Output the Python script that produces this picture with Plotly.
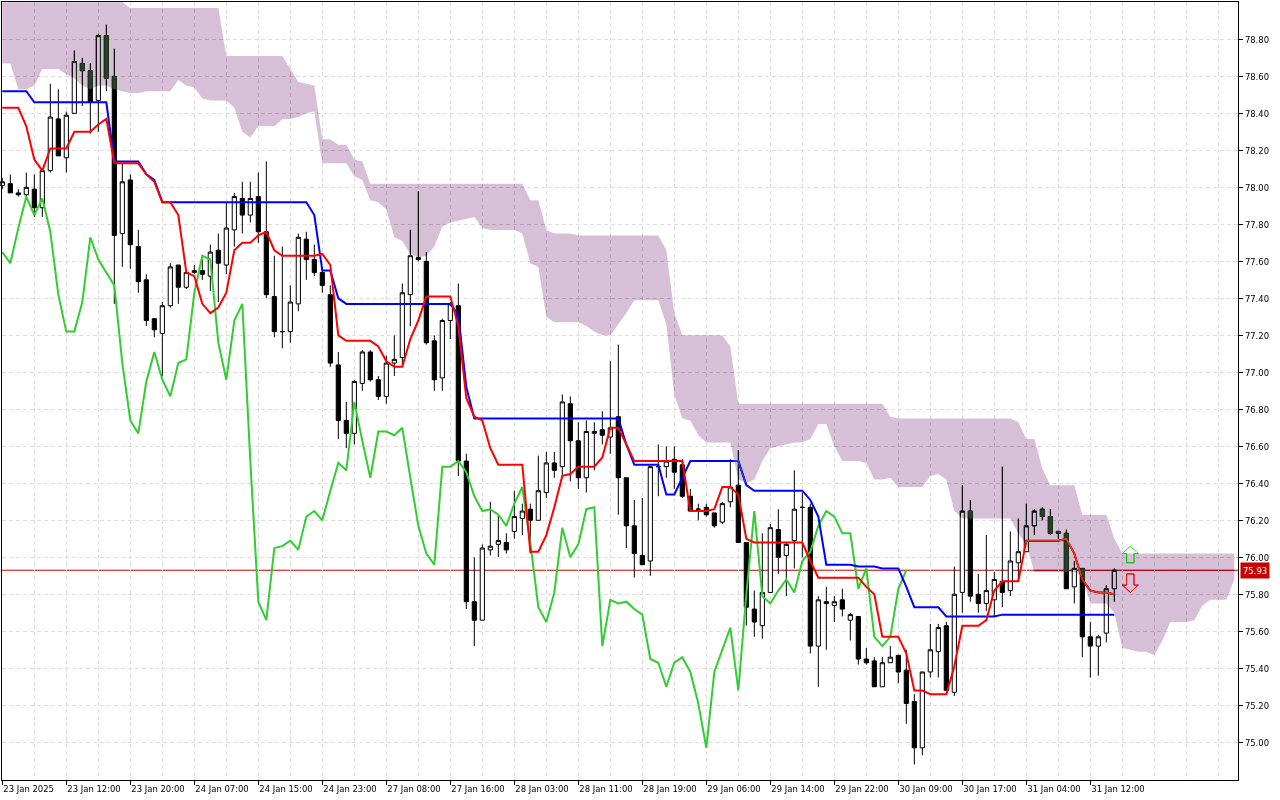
# filename: plot.py
import plotly.graph_objects as go

opens = [78.01, 78.02, 77.97, 77.96, 77.99, 77.89, 78.09, 78.37, 78.16, 78.40, 78.67, 78.63, 78.47, 78.82, 78.60, 77.75, 78.04, 77.68, 77.50, 77.29,
         77.21, 77.36, 77.58, 77.46, 77.54, 77.55, 77.52, 77.66, 77.58, 77.77, 77.94, 77.85, 77.95, 77.76, 77.41, 77.22, 77.22, 77.37, 77.72, 77.61,
         77.54, 77.42, 77.04, 76.74, 76.67, 76.94, 77.11, 76.96, 76.87, 77.05, 77.08, 77.42, 77.62, 77.60, 77.17, 76.97, 77.28, 77.36, 76.52, 75.76,
         75.66, 76.04, 76.07, 76.08, 76.14, 76.21, 76.26, 76.20, 76.35, 76.51, 76.49, 76.83, 76.63, 76.43, 76.67, 76.69, 76.65, 76.76, 76.43, 76.17,
         76.01, 75.98, 76.49, 76.49, 76.53, 76.50, 76.33, 76.26, 76.27, 76.24, 76.19, 76.30, 76.39, 76.08, 75.72, 75.63, 75.81, 76.15, 76.01, 76.09,
         76.27, 76.27, 75.52, 75.76, 75.74, 75.77, 75.66, 75.68, 75.45, 75.44, 75.30, 75.43, 75.47, 75.39, 75.22, 74.97, 75.38, 75.49, 75.63, 75.27,
         75.81, 76.25, 75.80, 75.75, 75.77, 75.87, 75.82, 75.97, 76.03, 76.17, 76.26, 76.22, 76.14, 76.13, 75.84, 75.94, 75.57, 75.52, 75.59, 75.83]
highs = [78.05, 78.07, 77.99, 78.08, 78.07, 78.10, 78.56, 78.53, 78.41, 78.74, 78.70, 78.67, 78.83, 78.88, 78.75, 78.13, 78.07, 77.77, 77.53, 77.29,
         77.38, 77.59, 77.58, 77.55, 77.58, 77.61, 77.69, 77.75, 77.92, 77.97, 78.03, 78.03, 78.08, 78.14, 77.63, 77.68, 77.47, 77.75, 77.76, 77.69,
         77.57, 77.47, 77.11, 76.84, 76.96, 77.12, 77.12, 76.98, 77.09, 77.20, 77.48, 77.77, 77.98, 77.65, 77.20, 77.29, 77.38, 77.48, 76.56, 76.00,
         76.07, 76.30, 76.23, 76.13, 76.36, 76.29, 76.29, 76.55, 76.57, 76.57, 76.88, 76.87, 76.73, 76.74, 76.73, 76.79, 77.06, 77.15, 76.43, 76.31,
         76.32, 76.49, 76.61, 76.60, 76.60, 76.53, 76.37, 76.29, 76.29, 76.24, 76.30, 76.53, 76.58, 76.08, 75.82, 76.13, 76.18, 76.26, 76.08, 76.47,
         76.35, 76.29, 75.79, 75.84, 75.79, 75.83, 75.70, 75.68, 75.51, 75.46, 75.46, 75.52, 75.47, 75.50, 75.26, 75.38, 75.64, 75.64, 75.65, 75.95,
         76.39, 76.31, 75.91, 76.12, 75.92, 76.49, 76.14, 76.21, 76.29, 76.26, 76.27, 76.26, 76.14, 76.15, 75.98, 75.94, 75.65, 75.58, 75.85, 75.94]
lows = [77.99, 77.97, 77.95, 77.95, 77.84, 77.84, 78.08, 78.17, 78.08, 78.40, 78.44, 78.29, 78.30, 78.52, 77.37, 77.57, 77.56, 77.43, 77.25, 77.19,
        76.98, 77.35, 77.37, 77.45, 77.53, 77.50, 77.44, 77.38, 77.53, 77.68, 77.75, 77.81, 77.70, 77.40, 77.19, 77.13, 77.16, 77.33, 77.50, 77.52,
        77.43, 77.03, 76.64, 76.59, 76.61, 76.90, 76.95, 76.85, 76.83, 76.98, 77.03, 77.25, 77.60, 77.15, 76.90, 76.90, 77.18, 76.44, 75.72, 75.52,
        75.66, 76.01, 76.00, 76.02, 76.10, 76.12, 76.02, 76.20, 76.32, 76.43, 76.44, 76.41, 76.37, 76.35, 76.47, 76.61, 76.56, 76.23, 76.05, 75.89,
        75.96, 75.90, 76.33, 76.43, 76.37, 76.32, 76.25, 76.20, 76.22, 76.16, 76.18, 76.27, 76.08, 75.63, 75.57, 75.56, 75.81, 75.91, 75.79, 75.94,
        76.00, 75.48, 75.30, 75.50, 75.65, 75.68, 75.55, 75.42, 75.42, 75.30, 75.30, 75.43, 75.32, 75.10, 74.88, 74.93, 75.35, 75.35, 75.28, 75.25,
        75.70, 75.76, 75.70, 75.71, 75.68, 75.73, 75.79, 75.87, 76.03, 76.12, 76.20, 76.12, 76.10, 75.83, 75.75, 75.46, 75.35, 75.36, 75.54, 75.76]
closes = [78.03, 77.97, 77.96, 78.00, 77.89, 78.09, 78.38, 78.17, 78.39, 78.68, 78.63, 78.46, 78.82, 78.59, 77.74, 78.03, 77.69, 77.49, 77.28, 77.23,
          77.36, 77.57, 77.46, 77.54, 77.55, 77.53, 77.65, 77.59, 77.78, 77.95, 77.85, 77.94, 77.76, 77.42, 77.22, 77.22, 77.38, 77.73, 77.61, 77.54,
          77.47, 77.05, 76.74, 76.67, 76.95, 77.11, 76.96, 76.87, 77.05, 77.07, 77.43, 77.63, 77.61, 77.16, 76.96, 77.28, 77.37, 76.52, 75.76, 75.66,
          76.05, 76.06, 76.09, 76.04, 76.22, 76.25, 76.20, 76.36, 76.51, 76.47, 76.84, 76.63, 76.43, 76.68, 76.68, 76.66, 76.70, 76.43, 76.17, 76.02,
          75.96, 76.49, 76.49, 76.52, 76.46, 76.33, 76.25, 76.26, 76.23, 76.17, 76.29, 76.38, 76.08, 75.73, 75.65, 75.81, 76.16, 76.00, 76.07, 76.26,
          76.27, 75.52, 75.77, 75.75, 75.76, 75.72, 75.69, 75.45, 75.43, 75.30, 75.43, 75.46, 75.38, 75.21, 74.97, 75.38, 75.50, 75.62, 75.28, 75.80,
          76.25, 75.79, 75.75, 75.82, 75.88, 75.81, 75.98, 76.03, 76.17, 76.25, 76.22, 76.13, 76.13, 75.83, 75.94, 75.57, 75.52, 75.57, 75.83, 75.93]

tenkan = [78.43, 78.43, 78.43, 78.33, 78.15, 78.09, 78.21, 78.21, 78.21, 78.30, 78.30, 78.30, 78.34, 78.37, 78.13, 78.13, 78.13, 78.13, 78.07, 78.03,
          77.92, 77.92, 77.85, 77.54, 77.52, 77.37, 77.32, 77.35, 77.43, 77.66, 77.70, 77.70, 77.74, 77.76, 77.66, 77.63, 77.63, 77.63, 77.63, 77.63,
          77.64, 77.58, 77.20, 77.17, 77.17, 77.17, 77.17, 77.14, 77.06, 77.03, 77.03, 77.18, 77.28, 77.41, 77.41, 77.41, 77.41, 77.25, 76.86, 76.76,
          76.74, 76.59, 76.50, 76.50, 76.50, 76.50, 76.03, 76.03, 76.12, 76.27, 76.44, 76.45, 76.49, 76.49, 76.49, 76.54, 76.70, 76.70, 76.61, 76.52,
          76.52, 76.52, 76.52, 76.52, 76.52, 76.52, 76.25, 76.25, 76.25, 76.26, 76.38, 76.38, 76.34, 76.10, 76.08, 76.08, 76.08, 76.08, 76.08, 76.08,
          76.08, 75.98, 75.89, 75.89, 75.89, 75.89, 75.89, 75.89, 75.84, 75.80, 75.57, 75.57, 75.57, 75.48, 75.28, 75.28, 75.26, 75.26, 75.26, 75.41,
          75.63, 75.63, 75.63, 75.66, 75.82, 75.87, 75.87, 75.87, 76.09, 76.09, 76.09, 76.09, 76.09, 76.10, 76.02, 75.88, 75.82, 75.81, 75.81, 75.80]
kijun = [78.52, 78.52, 78.52, 78.52, 78.46, 78.46, 78.46, 78.46, 78.46, 78.46, 78.46, 78.46, 78.46, 78.46, 78.14, 78.14, 78.14, 78.14, 78.07, 78.04,
         77.92, 77.92, 77.92, 77.92, 77.92, 77.92, 77.92, 77.92, 77.92, 77.92, 77.92, 77.92, 77.92, 77.92, 77.92, 77.92, 77.92, 77.92, 77.92, 77.85,
         77.55, 77.55, 77.40, 77.37, 77.37, 77.37, 77.37, 77.37, 77.37, 77.37, 77.37, 77.37, 77.37, 77.37, 77.37, 77.37, 77.37, 77.31, 76.92, 76.75,
         76.75, 76.75, 76.75, 76.75, 76.75, 76.75, 76.75, 76.75, 76.75, 76.75, 76.75, 76.75, 76.75, 76.75, 76.75, 76.75, 76.75, 76.75, 76.61, 76.50,
         76.50, 76.50, 76.50, 76.34, 76.34, 76.43, 76.52, 76.52, 76.52, 76.52, 76.52, 76.52, 76.52, 76.39, 76.36, 76.36, 76.36, 76.36, 76.36, 76.36,
         76.36, 76.31, 76.22, 75.96, 75.96, 75.96, 75.96, 75.95, 75.95, 75.95, 75.94, 75.94, 75.94, 75.84, 75.73, 75.73, 75.73, 75.73, 75.68, 75.68,
         75.68, 75.68, 75.68, 75.68, 75.68, 75.69, 75.69, 75.69, 75.69, 75.69, 75.69, 75.69, 75.69, 75.69, 75.69, 75.69, 75.69, 75.69, 75.69, 75.69]
chikou = [77.65, 77.59, 77.78, 77.95, 77.85, 77.94, 77.76, 77.42, 77.22, 77.22, 77.38, 77.73, 77.61, 77.54, 77.47, 77.05, 76.74, 76.67, 76.95, 77.11,
          76.96, 76.87, 77.05, 77.07, 77.43, 77.63, 77.61, 77.16, 76.96, 77.28, 77.37, 76.52, 75.76, 75.66, 76.05, 76.06, 76.09, 76.04, 76.22, 76.25,
          76.20, 76.36, 76.51, 76.47, 76.84, 76.63, 76.43, 76.68, 76.68, 76.66, 76.70, 76.43, 76.17, 76.02, 75.96, 76.49, 76.49, 76.52, 76.46, 76.33,
          76.25, 76.26, 76.23, 76.17, 76.29, 76.38, 76.08, 75.73, 75.65, 75.81, 76.16, 76.00, 76.07, 76.26, 76.27, 75.52, 75.77, 75.75, 75.76, 75.72,
          75.69, 75.45, 75.43, 75.30, 75.43, 75.46, 75.38, 75.21, 74.97, 75.38, 75.50, 75.62, 75.28, 75.80, 76.25, 75.79, 75.75, 75.82, 75.88, 75.81,
          75.98, 76.03, 76.17, 76.25, 76.22, 76.13, 76.13, 75.83, 75.94, 75.57, 75.52, 75.57, 75.83, 75.93]

cloud_upper = [79.00, 79.00, 79.00, 79.00, 79.00, 79.00, 79.00, 79.00, 79.00, 79.00, 79.00, 79.00, 79.00, 79.00, 79.00, 79.00, 78.97, 78.97, 78.97, 78.97,
               78.97, 78.97, 78.97, 78.97, 78.97, 78.97, 78.97, 78.97, 78.71, 78.71, 78.71, 78.71, 78.71, 78.71, 78.71, 78.71, 78.64, 78.57, 78.56, 78.55,
               78.26, 78.26, 78.23, 78.23, 78.15, 78.14, 78.02, 78.02, 78.02, 78.02, 78.02, 78.02, 78.02, 78.02, 78.02, 78.02, 78.02, 78.02, 78.02, 78.02,
               78.02, 78.02, 78.02, 78.02, 78.02, 78.02, 77.93, 77.93, 77.77, 77.75, 77.75, 77.75, 77.74, 77.74, 77.74, 77.74, 77.74, 77.74, 77.74, 77.74,
               77.74, 77.74, 77.74, 77.66, 77.32, 77.20, 77.20, 77.20, 77.20, 77.20, 77.20, 77.14, 76.83, 76.83, 76.83, 76.83, 76.83, 76.83, 76.83, 76.83,
               76.83, 76.83, 76.83, 76.83, 76.83, 76.83, 76.83, 76.83, 76.83, 76.83, 76.83, 76.76, 76.75, 76.75, 76.75, 76.75, 76.75, 76.75, 76.75, 76.75,
               76.75, 76.75, 76.75, 76.75, 76.75, 76.75, 76.75, 76.73, 76.64, 76.64, 76.48, 76.39, 76.39, 76.39, 76.39, 76.23, 76.23, 76.23, 76.23, 76.10,
               76.02, 76.02, 76.02, 76.02, 76.02, 76.02, 76.02, 76.02, 76.02, 76.02, 76.02, 76.02, 76.02, 76.02, 76.02]
cloud_lower = [78.67, 78.67, 78.53, 78.53, 78.55, 78.64, 78.64, 78.64, 78.61, 78.59, 78.55, 78.53, 78.55, 78.55, 78.53, 78.52, 78.51, 78.51, 78.52, 78.52,
               78.52, 78.52, 78.58, 78.55, 78.54, 78.48, 78.47, 78.47, 78.47, 78.43, 78.30, 78.27, 78.33, 78.33, 78.33, 78.37, 78.37, 78.38, 78.40, 78.41,
               78.13, 78.13, 78.13, 78.13, 78.06, 78.04, 77.93, 77.92, 77.88, 77.73, 77.71, 77.64, 77.62, 77.63, 77.68, 77.79, 77.81, 77.82, 77.83, 77.84,
               77.78, 77.77, 77.77, 77.77, 77.77, 77.75, 77.59, 77.57, 77.30, 77.27, 77.27, 77.27, 77.27, 77.25, 77.22, 77.20, 77.20, 77.26, 77.32, 77.39,
               77.39, 77.39, 77.39, 77.26, 76.88, 76.75, 76.74, 76.66, 76.62, 76.62, 76.62, 76.62, 76.42, 76.40, 76.42, 76.52, 76.59, 76.60, 76.61, 76.62,
               76.62, 76.64, 76.72, 76.72, 76.60, 76.52, 76.52, 76.52, 76.51, 76.42, 76.42, 76.43, 76.38, 76.38, 76.38, 76.38, 76.44, 76.45, 76.42, 76.25,
               76.21, 76.21, 76.21, 76.21, 76.21, 76.21, 76.21, 76.13, 76.07, 75.92, 75.92, 75.92, 75.92, 75.92, 75.92, 75.90, 75.75, 75.75, 75.75, 75.70,
               75.51, 75.50, 75.49, 75.49, 75.47, 75.55, 75.65, 75.65, 75.65, 75.66, 75.74, 75.77, 75.77, 75.77, 75.88]

time_labels = ["23 Jan 2025", "23 Jan 12:00", "23 Jan 20:00", "24 Jan 07:00", "24 Jan 15:00", "24 Jan 23:00",
               "27 Jan 08:00", "27 Jan 16:00", "28 Jan 03:00", "28 Jan 11:00", "28 Jan 19:00", "29 Jan 06:00",
               "29 Jan 14:00", "29 Jan 22:00", "30 Jan 09:00", "30 Jan 17:00", "31 Jan 04:00", "31 Jan 12:00"]
time_ticks = list(range(0, 144, 8))
price_ticks = [75.0, 75.2, 75.4, 75.6, 75.8, 76.0, 76.2, 76.4, 76.6, 76.8, 77.0, 77.2, 77.4, 77.6, 77.8, 78.0, 78.2, 78.4, 78.6, 78.8]
last_price = 75.93

# the two arrow objects next to the last bar, in bar index / price units
up_arrow_x = [141, 142, 141.46, 141.46, 140.54, 140.54, 140, 141]
up_arrow_y = [76.06, 76.02, 76.02, 75.97, 75.97, 76.02, 76.02, 76.06]
down_arrow_x = [141, 142, 141.46, 141.46, 140.54, 140.54, 140, 141]
down_arrow_y = [75.81, 75.85, 75.85, 75.91, 75.91, 75.85, 75.85, 75.81]

FONT = "DejaVu Sans Condensed, Liberation Sans, Arial, sans-serif"
FONT_SIZE = 9.4
GRID = "#dedede"
# cloud is painted in difference mode, so this is the inverse of thistle
CLOUD = "rgb(39,64,39)"

bars = list(range(len(closes)))

fig = go.Figure()
fig.add_trace(go.Candlestick(x=bars, open=opens, high=highs, low=lows, close=closes,
                             whiskerwidth=0,
                             increasing=dict(line=dict(color="black", width=1), fillcolor="white"),
                             decreasing=dict(line=dict(color="black", width=1), fillcolor="black"),
                             hoverinfo="skip"))
fig.add_trace(go.Scatter(x=bars[:len(chikou)], y=chikou, mode="lines", line=dict(color="#32cd32", width=2)))
fig.add_trace(go.Scatter(x=bars, y=kijun, mode="lines", line=dict(color="#0000ff", width=2)))
fig.add_trace(go.Scatter(x=bars, y=tenkan, mode="lines", line=dict(color="#ff0000", width=2)))
fig.add_trace(go.Scatter(x=up_arrow_x, y=up_arrow_y, mode="lines", fill="toself", fillcolor="white",
                         line=dict(color="#00ff00", width=1)))
fig.add_trace(go.Scatter(x=down_arrow_x, y=down_arrow_y, mode="lines", fill="toself", fillcolor="white",
                         line=dict(color="#ff0000", width=1)))
cloud_x = list(range(len(cloud_upper)))
fig.add_trace(go.Scatter(x=cloud_x, y=cloud_upper, mode="lines", line=dict(width=0, color=CLOUD)))
fig.add_trace(go.Scatter(x=cloud_x, y=cloud_lower, mode="lines", line=dict(width=0, color=CLOUD),
                         fill="tonexty", fillcolor=CLOUD))

fig.add_shape(type="line", xref="paper", x0=0, x1=1, y0=last_price, y1=last_price,
              line=dict(color="#cc0000", width=1), layer="below")
fig.add_annotation(xref="paper", x=1, y=last_price, xanchor="left", xshift=2, text=f"{last_price:.2f}",
                   showarrow=False, bgcolor="#c80000", borderpad=2,
                   font=dict(family=FONT, size=FONT_SIZE, color="white"))

fig.update_layout(
    width=1280, height=800,
    margin=dict(l=2, r=42, t=2, b=20, autoexpand=False),
    paper_bgcolor="white", plot_bgcolor="white",
    showlegend=False, hovermode=False, boxgap=0.25,
    font=dict(family=FONT, size=FONT_SIZE, color="black"),
)
fig.update_xaxes(
    range=[-0.04, 154.46], rangeslider_visible=False, automargin=False,
    tickmode="array", tickvals=time_ticks, ticktext=time_labels, tickangle=0,
    ticklabelposition="outside right",
    ticks="outside", ticklen=4, tickcolor="black", tickwidth=1,
    showgrid=True, gridcolor=GRID, griddash="4px,3px", gridwidth=1,
    minor=dict(tickmode="linear", tick0=0, dtick=4, showgrid=True, gridcolor=GRID, griddash="4px,3px", gridwidth=1, ticks=""),
    showline=True, linecolor="black", linewidth=1, mirror=True, zeroline=False,
)
fig.update_yaxes(
    range=[74.796, 79.002], side="right", automargin=False,
    tickmode="array", tickvals=price_ticks, ticktext=[f"{p:.2f}" for p in price_ticks],
    ticks="outside", ticklen=4, tickcolor="black", tickwidth=1,
    showgrid=True, gridcolor=GRID, griddash="4px,3px", gridwidth=1,
    showline=True, linecolor="black", linewidth=1, mirror=True, zeroline=False,
)

# plain page margin, and XOR-like cloud: lift the clips that would isolate the blend
post_script = """
document.body.style.margin = '0';
document.querySelectorAll('.js-fill').forEach(function (el) {
    if (el.style.fill.replace(/ /g, '') !== 'rgb(39,64,39)') { return; }
    el.style.mixBlendMode = 'difference';
    var node = el.parentNode;
    while (node && node.tagName !== 'svg') {
        if (node.classList.contains('plot')) {
            var clip = node.getAttribute('clip-path');
            var boxes = node.querySelector('.boxlayer');
            if (clip && boxes) { boxes.setAttribute('clip-path', clip); }
        }
        node.removeAttribute('clip-path');
        node = node.parentNode;
    }
});
"""
fig.write_html("out.html", post_script=post_script, config={"displayModeBar": False})
